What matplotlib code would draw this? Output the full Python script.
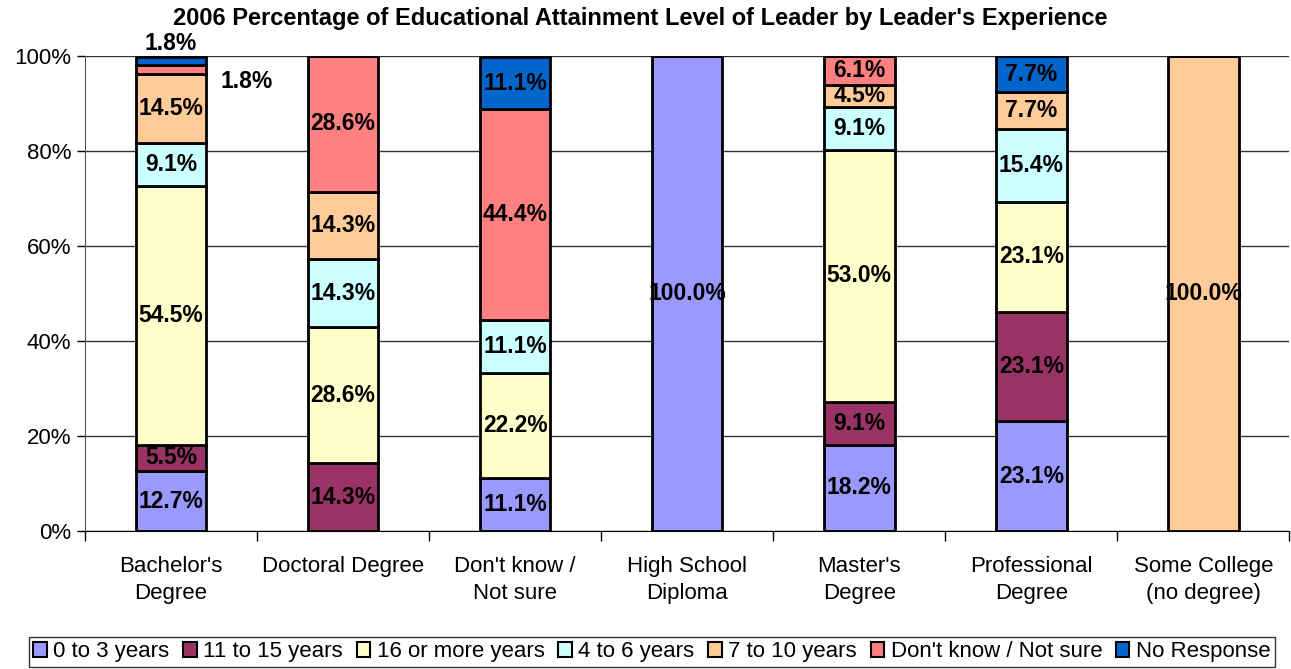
import numpy as np
import matplotlib.pyplot as plt
from matplotlib.patches import Patch

plt.rcParams['font.family'] = ['Liberation Sans', 'DejaVu Sans']

categories = ["Bachelor's\nDegree", "Doctoral Degree", "Don't know /\nNot sure",
              "High School\nDiploma", "Master's\nDegree", "Professional\nDegree",
              "Some College\n(no degree)"]
series = ["0 to 3 years", "11 to 15 years", "16 or more years", "4 to 6 years",
          "7 to 10 years", "Don't know / Not sure", "No Response"]
colors = ["#9999FF", "#993366", "#FFFFCC", "#CCFFFF", "#FFCC99", "#FF8080", "#0066CC"]

vals_0_3 = [12.7, 0, 11.1, 100.0, 18.2, 23.1, 0]
vals_11_15 = [5.5, 14.3, 0, 0, 9.1, 23.1, 0]
vals_16 = [54.5, 28.6, 22.2, 0, 53.0, 23.1, 0]
vals_4_6 = [9.1, 14.3, 11.1, 0, 9.1, 15.4, 0]
vals_7_10 = [14.5, 14.3, 0, 0, 4.5, 7.7, 100.0]
vals_dk = [1.8, 28.6, 44.4, 0, 6.1, 0, 0]
vals_nr = [1.8, 0, 11.1, 0, 0, 7.7, 0]
data = [vals_0_3, vals_11_15, vals_16, vals_4_6, vals_7_10, vals_dk, vals_nr]

lab_fs = 16.5

fig = plt.figure(figsize=(12.91, 6.69), dpi=100)
ax = fig.add_axes([0.0658, 0.206, 0.933, 0.71])

x = np.arange(len(categories))
bottom = np.zeros(len(categories))
for s, vals, c in zip(series, data, colors):
    v = np.array(vals)
    ax.bar(x, v, 0.41, bottom=bottom, color=c, edgecolor='black', linewidth=2, zorder=3)
    for i in range(len(x)):
        if v[i] <= 0:
            continue
        if v[i] < 3:
            # tiny segments on Bachelor's: labels put outside the bar
            if s == "No Response":
                ax.text(x[i], 100.2, "%.1f%%" % v[i], ha='center', va='bottom',
                        fontsize=lab_fs, fontweight='bold')
            else:
                ax.text(x[i] + 0.44, bottom[i] + v[i] / 2 - 2.5, "%.1f%%" % v[i],
                        ha='center', va='center', fontsize=lab_fs, fontweight='bold')
        else:
            ax.text(x[i], bottom[i] + v[i] / 2, "%.1f%%" % v[i], ha='center',
                    va='center', fontsize=lab_fs, fontweight='bold', zorder=4)
    bottom += v

ax.set_xlim(-0.5, len(categories) - 0.5)
ax.set_ylim(0, 100)
ax.set_yticks(np.arange(0, 101, 20))
ax.set_yticklabels(["%d%%" % t for t in range(0, 101, 20)], fontsize=16)
ax.set_xticks(x)
ax.set_xticklabels(categories, fontsize=16, linespacing=1.35)
ax.set_xticks(np.arange(-0.5, len(categories)), minor=True)
ax.tick_params(axis='x', which='major', length=0, pad=18)
ax.tick_params(axis='x', which='minor', length=7, width=1)
ax.tick_params(axis='y', length=6, width=1, pad=4)
ax.grid(axis='y', color='#333333', linewidth=1, zorder=0)
for sp in ['top', 'right']:
    ax.spines[sp].set_visible(False)
ax.spines['left'].set_color('#555555')
ax.spines['bottom'].set_color('black')

fig.text(0.496, 0.972, "2006 Percentage of Educational Attainment Level of Leader by Leader's Experience",
         ha='center', va='center', fontsize=17, fontweight='bold')

handles = [Patch(facecolor=c, edgecolor='black', linewidth=1.5) for c in colors]
leg = fig.legend(handles, series, loc='center', bbox_to_anchor=(0.505, 0.026), ncol=7,
                 fontsize=16, frameon=True, fancybox=False, edgecolor='black',
                 handlelength=0.6, handleheight=0.7, handletextpad=0.3, columnspacing=0.62,
                 borderpad=0.2)
leg.get_frame().set_linewidth(1)

fig.savefig("out.png", dpi=100)
